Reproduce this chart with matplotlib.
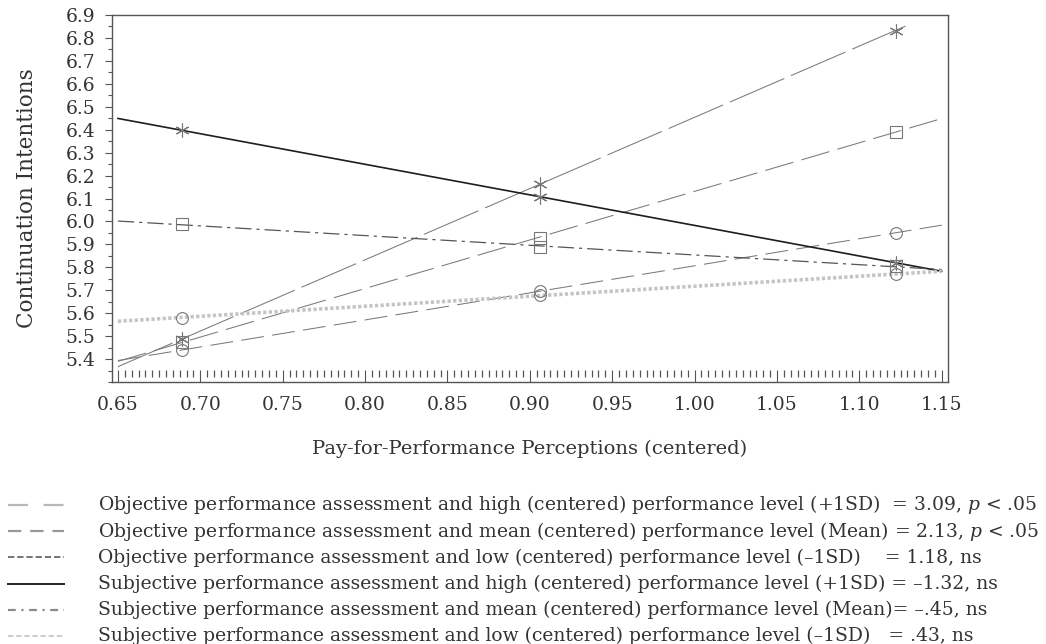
import numpy as np
import matplotlib
matplotlib.use("Agg")
import matplotlib.pyplot as plt
from matplotlib.ticker import MultipleLocator, FormatStrFormatter
from matplotlib.lines import Line2D

plt.rcParams['font.family'] = ['DejaVu Serif']
plt.rcParams['mathtext.fontset'] = 'dejavuserif'

# ---------------- data ----------------
x_points = [0.689, 0.906, 1.122]          # -1SD, mean, +1SD of pay-for-performance perceptions
obj_high = [5.487, 6.164, 6.832]
obj_mean = [5.474, 5.929, 6.391]
obj_low = [5.440, 5.695, 5.951]
subj_high = [6.397, 6.108, 5.820]
subj_mean = [5.987, 5.890, 5.804]
subj_low = [5.581, 5.678, 5.770]
line_start = [0.65, 0.65, 0.65, 0.65, 0.65, 0.65]
line_end = [1.128, 1.15, 1.15, 1.15, 1.15, 1.15]

x_ticks = [0.65, 0.70, 0.75, 0.80, 0.85, 0.90, 0.95, 1.00, 1.05, 1.10, 1.15]
y_ticks = [5.4, 5.5, 5.6, 5.7, 5.8, 5.9, 6.0, 6.1, 6.2, 6.3, 6.4, 6.5, 6.6, 6.7, 6.8, 6.9]

legend_labels = [
    "Objective performance assessment and high (centered) performance level (+1SD)  = 3.09, $p$ < .05",
    "Objective performance assessment and mean (centered) performance level (Mean) = 2.13, $p$ < .05",
    "Objective performance assessment and low (centered) performance level (\u20131SD)    = 1.18, ns",
    "Subjective performance assessment and high (centered) performance level (+1SD) = \u20131.32, ns",
    "Subjective performance assessment and mean (centered) performance level (Mean)= \u2013.45, ns",
    "Subjective performance assessment and low (centered) performance level (\u20131SD)   = .43, ns",
]

# ---------------- styles ----------------
series = [obj_high, obj_mean, obj_low, subj_high, subj_mean, subj_low]
markers = [(6, 2, 0), 's', 'o', (6, 2, 0), 's', 'o']
msizes = [10, 8.5, 8.5, 10, 8.5, 8.5]
line_colors = ['#7a7a7a', '#7a7a7a', '#7a7a7a', '#1e1e1e', '#555555', '#c4c4c4']
line_widths = [0.75, 0.75, 0.75, 1.2, 0.9, 2.6]
line_dashes = [(57, 7), (28, 8), (22, 8), None, (13, 4, 2.5, 4), (0.9, 0.65)]

W, H = 1046, 644
fig = plt.figure(figsize=(W / 100, H / 100), dpi=100)
ax = fig.add_axes([112 / W, 1 - 382 / H, (948 - 112) / W, (382 - 15) / H])

for ys, mk, ms, col, lw, dsh, xs0, xs1 in zip(series, markers, msizes, line_colors,
                                               line_widths, line_dashes, line_start, line_end):
    slope, icpt = np.polyfit(x_points, ys, 1)
    xl = np.array([xs0, xs1])
    ln, = ax.plot(xl, icpt + slope * xl, color=col, lw=lw, zorder=2)
    if dsh is not None:
        ln.set_dashes(dsh)
        ln.set_dash_capstyle('butt')
    ax.plot(x_points, ys, linestyle='none', marker=mk, markersize=ms,
            markerfacecolor='none', markeredgecolor='#777777', markeredgewidth=0.8, zorder=3)

ax.set_xlim(0.6464, 1.1538)
ax.set_ylim(5.30, 6.90)
ax.set_xticks(x_ticks)
ax.set_yticks(y_ticks)
ax.xaxis.set_major_formatter(FormatStrFormatter('%.2f'))
ax.yaxis.set_major_formatter(FormatStrFormatter('%.1f'))
ax.yaxis.set_minor_locator(MultipleLocator(0.05))

for s in ax.spines.values():
    s.set_color('#555555')
    s.set_linewidth(1.0)

ax.tick_params(axis='y', which='major', direction='out', length=5, width=0.8,
               pad=7, labelsize=13.5, color='#555555', labelcolor='#333333')
ax.tick_params(axis='y', which='minor', direction='out', length=3, width=0.8, color='#555555')
ax.tick_params(axis='x', which='major', direction='in', length=8.5, width=0.8,
               pad=10, labelsize=13.5, color='#555555', labelcolor='#333333')
ax.tick_params(axis='x', which='minor', length=0)

# floating minor tick row just above the bottom spine
sec = ax.secondary_xaxis(5 / 367)
sec.set_xticks(x_ticks)
sec.xaxis.set_minor_locator(MultipleLocator(0.05 / 12))
sec.spines['bottom'].set_visible(False)
sec.tick_params(which='major', length=0, labelbottom=False)
sec.tick_params(which='minor', direction='in', length=4.8, width=0.9, color='#555555')

ax.set_ylabel("Continuation Intentions", fontsize=15.5, color='#333333')
ax.yaxis.set_label_coords(-0.088, 0.5)
ax.set_xlabel("Pay-for-Performance Perceptions (centered)", fontsize=14, color='#333333')
ax.xaxis.set_label_coords(0.5, -0.158)

# ---------------- legend (drawn below the plot) ----------------
leg_colors = ['#b8b8b8', '#999999', '#6a6a6a', '#222222', '#8a8a8a', '#c8c8c8']
leg_widths = [1.6, 1.6, 1.3, 1.4, 1.6, 1.3]
leg_dashes = [(9, 7), (6, 4), (3.5, 1.6), None, (3.5, 2.5, 1, 2.5), (3, 1.5)]
row_y = np.linspace(505, 636, 6)
for lab, col, lw, dsh, yy in zip(legend_labels, leg_colors, leg_widths, leg_dashes, row_y):
    yf = 1 - yy / H
    l = Line2D([8 / W, 64 / W], [yf, yf], transform=fig.transFigure, color=col, lw=lw)
    if dsh is not None:
        l.set_dashes(dsh)
        l.set_dash_capstyle('butt')
    fig.add_artist(l)
    fig.text(98 / W, yf, lab, fontsize=13.5, color='#333333', va='center', ha='left')

fig.savefig("out.png", dpi=100)
